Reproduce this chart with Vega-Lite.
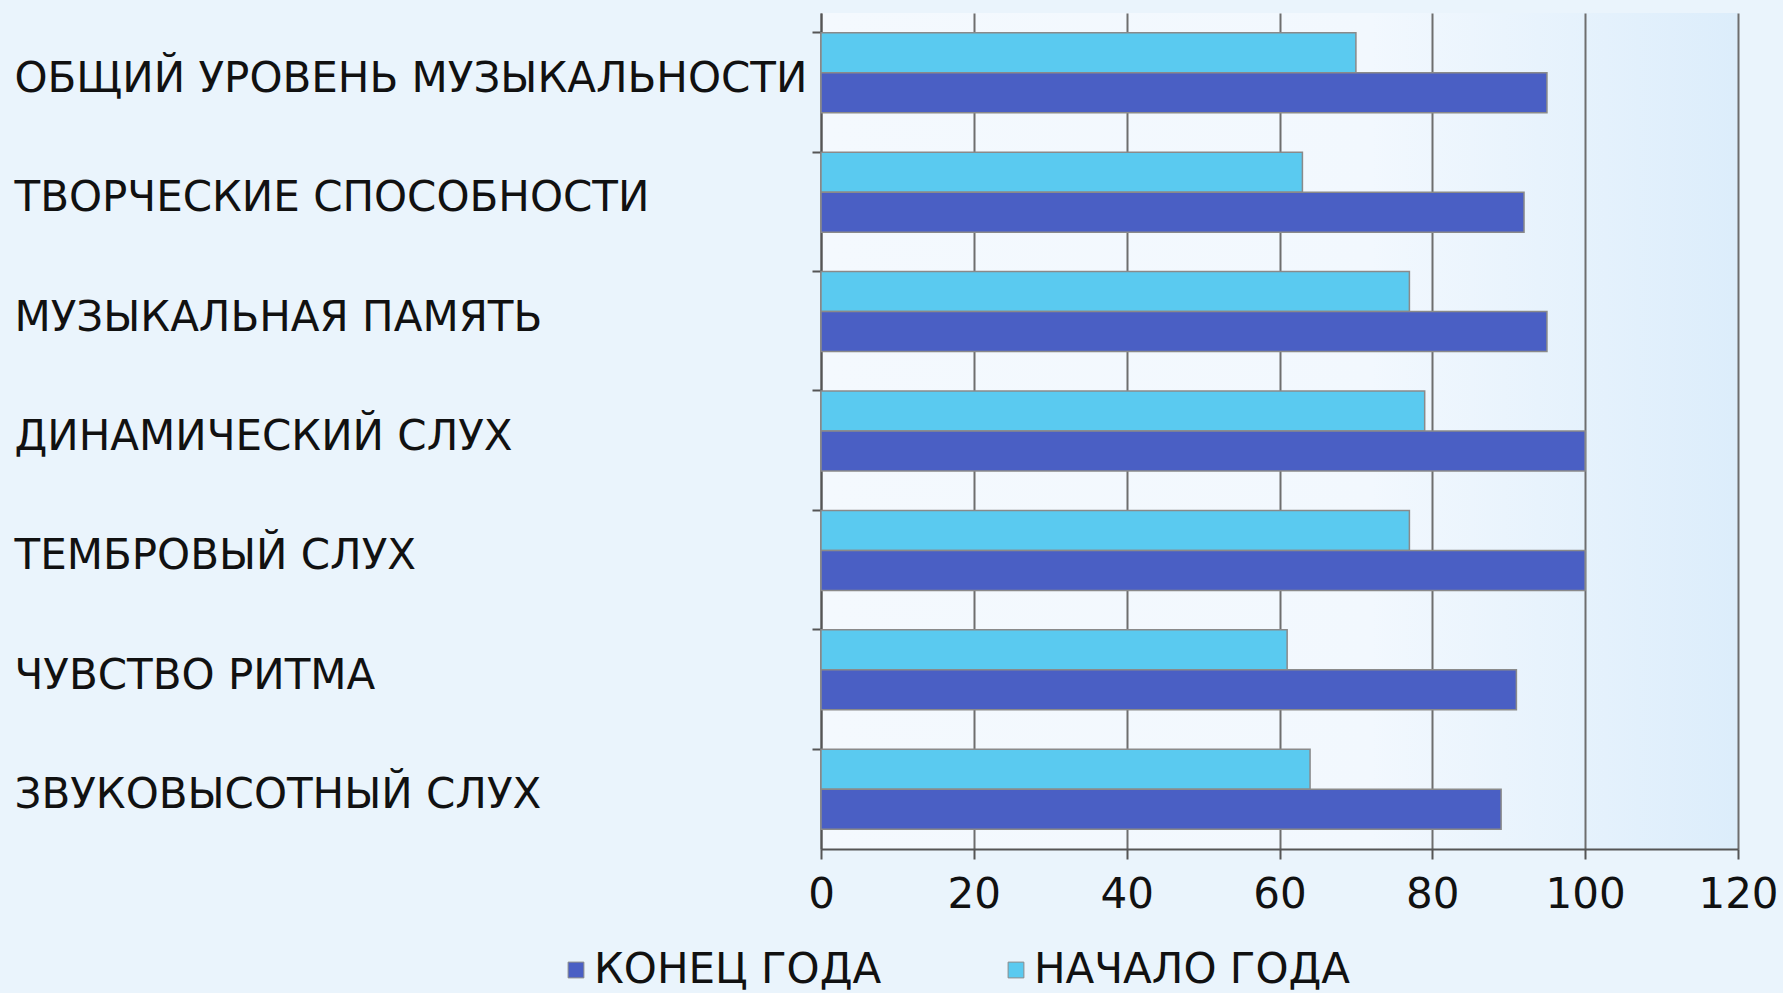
{
  "$schema": "https://vega.github.io/schema/vega-lite/v6.json",
  "width": 917,
  "height": 836,
  "autosize": {"type": "none"},
  "padding": {"left": 821, "top": 13, "right": 45, "bottom": 144},
  "background": "#eaf4fc",
  "data": {
    "values": [
      {"category": "ОБЩИЙ УРОВЕНЬ МУЗЫКАЛЬНОСТИ", "period": "НАЧАЛО ГОДА", "value": 70},
      {"category": "ОБЩИЙ УРОВЕНЬ МУЗЫКАЛЬНОСТИ", "period": "КОНЕЦ ГОДА", "value": 95},
      {"category": "ТВОРЧЕСКИЕ СПОСОБНОСТИ", "period": "НАЧАЛО ГОДА", "value": 63},
      {"category": "ТВОРЧЕСКИЕ СПОСОБНОСТИ", "period": "КОНЕЦ ГОДА", "value": 92},
      {"category": "МУЗЫКАЛЬНАЯ ПАМЯТЬ", "period": "НАЧАЛО ГОДА", "value": 77},
      {"category": "МУЗЫКАЛЬНАЯ ПАМЯТЬ", "period": "КОНЕЦ ГОДА", "value": 95},
      {"category": "ДИНАМИЧЕСКИЙ СЛУХ", "period": "НАЧАЛО ГОДА", "value": 79},
      {"category": "ДИНАМИЧЕСКИЙ СЛУХ", "period": "КОНЕЦ ГОДА", "value": 100},
      {"category": "ТЕМБРОВЫЙ СЛУХ", "period": "НАЧАЛО ГОДА", "value": 77},
      {"category": "ТЕМБРОВЫЙ СЛУХ", "period": "КОНЕЦ ГОДА", "value": 100},
      {"category": "ЧУВСТВО РИТМА", "period": "НАЧАЛО ГОДА", "value": 61},
      {"category": "ЧУВСТВО РИТМА", "period": "КОНЕЦ ГОДА", "value": 91},
      {"category": "ЗВУКОВЫСОТНЫЙ СЛУХ", "period": "НАЧАЛО ГОДА", "value": 64},
      {"category": "ЗВУКОВЫСОТНЫЙ СЛУХ", "period": "КОНЕЦ ГОДА", "value": 89}
    ]
  },
  "mark": {"type": "bar", "stroke": "#8a8a8a", "strokeWidth": 1.5},
  "encoding": {
    "y": {
      "field": "category",
      "type": "nominal",
      "sort": null,
      "scale": {"paddingInner": 0.33, "paddingOuter": 0.165},
      "axis": {
        "title": null,
        "labelAlign": "left",
        "labelPadding": 798,
        "labelOffset": 6,
        "labelLimit": 0,
        "labelFont": "DejaVu Sans",
        "labelFontSize": 42,
        "labelColor": "#111111",
        "tickSize": 9,
        "tickWidth": 2,
        "tickColor": "#555555",
        "bandPosition": 0,
        "domainColor": "#555555",
        "domainWidth": 2,
        "grid": false
      }
    },
    "yOffset": {
      "field": "period",
      "type": "nominal",
      "scale": {"domain": ["НАЧАЛО ГОДА", "КОНЕЦ ГОДА"], "paddingInner": 0, "paddingOuter": 0}
    },
    "x": {
      "field": "value",
      "type": "quantitative",
      "scale": {"domain": [0, 120], "nice": false},
      "axis": {
        "title": null,
        "values": [0, 20, 40, 60, 80, 100, 120],
        "labelFont": "DejaVu Sans",
        "labelFontSize": 42,
        "labelColor": "#111111",
        "labelPadding": 15,
        "labelFlush": false,
        "tickSize": 10,
        "tickWidth": 2,
        "tickColor": "#555555",
        "domainColor": "#555555",
        "domainWidth": 2,
        "grid": true,
        "gridColor": "#6e6e6e",
        "gridWidth": 2
      }
    },
    "color": {
      "field": "period",
      "type": "nominal",
      "scale": {"domain": ["КОНЕЦ ГОДА", "НАЧАЛО ГОДА"], "range": ["#4a5fc4", "#5acaf0"]},
      "legend": {
        "title": null,
        "orient": "none",
        "legendX": -266,
        "legendY": 936,
        "direction": "horizontal",
        "columns": 2,
        "columnPadding": 113,
        "padding": 0,
        "symbolType": "square",
        "symbolSize": 250,
        "symbolStrokeColor": "#8a8a8a",
        "symbolStrokeWidth": 1,
        "labelFont": "DejaVu Sans",
        "labelFontSize": 42,
        "labelColor": "#111111",
        "labelOffset": -3,
        "labelLimit": 500
      }
    }
  },
  "config": {
    "view": {
      "stroke": null,
      "fill": {
        "gradient": "linear",
        "x1": 0, "y1": 0, "x2": 1, "y2": 0,
        "stops": [
          {"offset": 0, "color": "#f4f9fe"},
          {"offset": 0.6, "color": "#f2f8fe"},
          {"offset": 1, "color": "#dcedfb"}
        ]
      }
    }
  }
}
